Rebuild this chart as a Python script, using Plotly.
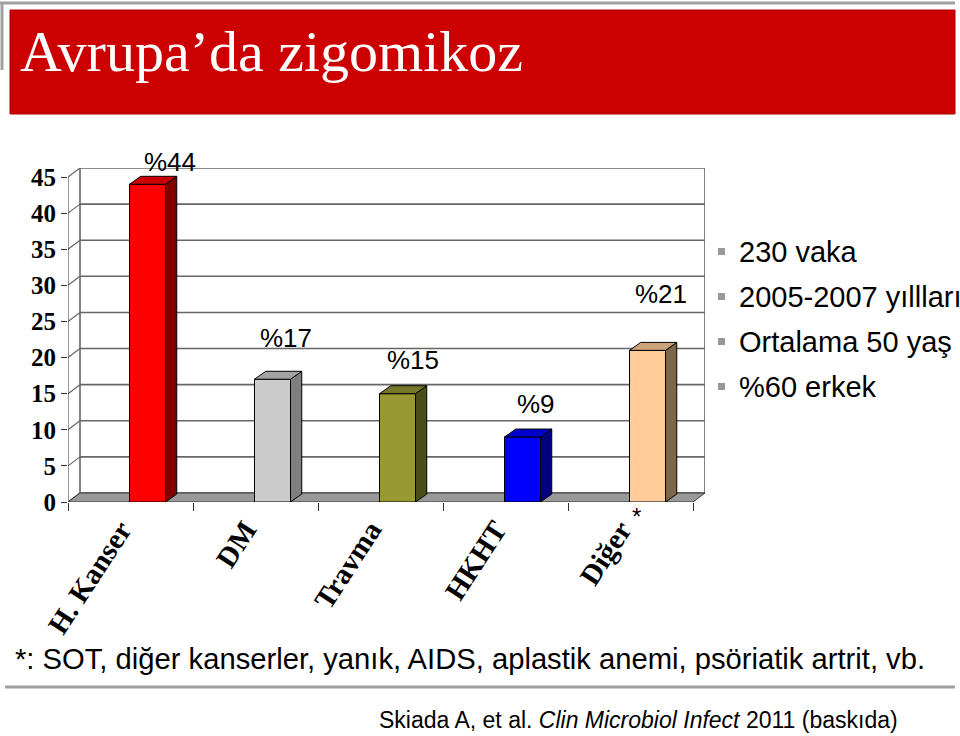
import plotly.graph_objects as go

# ---------------- data ----------------
categories = ["H. Kanser", "DM", "Travma", "HKHT", "Diğer"]
values = [44, 17, 15, 9, 21]
value_labels = ["%44", "%17", "%15", "%9", "%21"]
y_ticks = [0, 5, 10, 15, 20, 25, 30, 35, 40, 45]
front_colors = ["#FF0000", "#CCCCCC", "#999933", "#0000FF", "#FFCC99"]
top_colors = ["#CC0000", "#A3A3A3", "#77772A", "#0000CC", "#CCA37A"]
side_colors = ["#800000", "#7F7F7F", "#4D4D1A", "#000080", "#806648"]
notes = ["230 vaka", "2005-2007 yıllları", "Ortalama 50 yaş", "%60 erkek"]
title_text = "Avrupa’da zigomikoz"
footnote = "*: SOT, diğer kanserler, yanık, AIDS, aplastik anemi, psöriatik artrit, vb."
citation = "Skiada A, et al. <i>Clin Microbiol Infect</i> 2011 (baskıda)"

# ---------------- geometry / style ----------------
W, H = 960, 736
WALL_DX, WALL_DY = 0.096, 1.25      # depth of back wall (data units)
BAR_DX, BAR_DY = 0.09, 1.1          # depth of bars (data units)
BAR_OFF, BAR_W = 0.136, 0.288
label_xshift = [22, 13, 15, 13, 13]
label_yshift = [22, 41, 34, 33, 56]
GRID = "#666666"


def px(x):
    return x / W


def py(y):
    return 1 - y / H


n = len(categories)
x_min, x_max = -0.5, n - 0.5 + WALL_DX
y_max = max(y_ticks) + WALL_DY

fig = go.Figure()

# front faces
bar_x = [i + BAR_OFF for i in range(n)]
fig.add_trace(go.Bar(
    x=bar_x, y=values, width=BAR_W,
    marker=dict(color=front_colors, line=dict(color="#000000", width=1)),
    hoverinfo="skip", showlegend=False,
))

# side and top faces
for i, v in enumerate(values):
    x0 = bar_x[i] - BAR_W / 2
    x1 = bar_x[i] + BAR_W / 2
    fig.add_trace(go.Scatter(
        x=[x1, x1 + BAR_DX, x1 + BAR_DX, x1, x1],
        y=[0, BAR_DY, v + BAR_DY, v, 0],
        mode="lines", fill="toself", fillcolor=side_colors[i],
        line=dict(color="#000000", width=1), hoverinfo="skip", showlegend=False,
    ))
    fig.add_trace(go.Scatter(
        x=[x0, x1, x1 + BAR_DX, x0 + BAR_DX, x0],
        y=[v, v, v + BAR_DY, v + BAR_DY, v],
        mode="lines", fill="toself", fillcolor=top_colors[i],
        line=dict(color="#000000", width=1), hoverinfo="skip", showlegend=False,
    ))

shapes = []
# back wall gridlines + diagonals
for t in y_ticks:
    shapes.append(dict(type="line", xref="x", yref="y", layer="below",
                       x0=-0.5 + WALL_DX, x1=n - 0.5 + WALL_DX,
                       y0=t + WALL_DY, y1=t + WALL_DY,
                       line=dict(color=GRID, width=1.6)))
    shapes.append(dict(type="line", xref="x", yref="y", layer="below",
                       x0=-0.5, x1=-0.5 + WALL_DX, y0=t, y1=t + WALL_DY,
                       line=dict(color=GRID, width=1.2)))
# back wall edges
for xe in (-0.5 + WALL_DX, n - 0.5 + WALL_DX):
    shapes.append(dict(type="line", xref="x", yref="y", layer="below",
                       x0=xe, x1=xe, y0=WALL_DY, y1=max(y_ticks) + WALL_DY,
                       line=dict(color=GRID, width=1.6)))
# floor
shapes.append(dict(type="path", xref="x", yref="y", layer="below",
                   path=f"M {-0.5},0 L {n-0.5},0 L {n-0.5+WALL_DX},{WALL_DY} L {-0.5+WALL_DX},{WALL_DY} Z",
                   fillcolor="#999999", line=dict(color="#333333", width=1)))
# front vertical axis line
shapes.append(dict(type="line", xref="x", yref="y", layer="below",
                   x0=-0.5, x1=-0.5, y0=0, y1=max(y_ticks),
                   line=dict(color="#333333", width=1)))

# title band and frame
shapes.append(dict(type="line", xref="paper", yref="paper", x0=px(0), x1=px(955),
                   y0=py(3), y1=py(3), line=dict(color="#A0A0A0", width=3)))
shapes.append(dict(type="line", xref="paper", yref="paper", x0=px(2), x1=px(2),
                   y0=py(3), y1=py(70), line=dict(color="#A0A0A0", width=3)))
shapes.append(dict(type="rect", xref="paper", yref="paper", x0=px(10), x1=px(955),
                   y0=py(10), y1=py(114), fillcolor="#CC0000",
                   line=dict(color="#B00000", width=1)))
# separator line
shapes.append(dict(type="line", xref="paper", yref="paper", x0=px(5), x1=px(955),
                   y0=py(687), y1=py(687), line=dict(color="#A0A0A0", width=3)))
# bullets
for k in range(len(notes)):
    yc = 252 + 45 * k
    shapes.append(dict(type="rect", xref="paper", yref="paper",
                       x0=px(718), x1=px(725), y0=py(yc - 4), y1=py(yc + 3),
                       fillcolor="#999999", line=dict(width=0)))

annotations = []
# value labels
for i, lab in enumerate(value_labels):
    annotations.append(dict(x=bar_x[i], y=values[i], xref="x", yref="y",
                            text=lab, showarrow=False, xanchor="center", yanchor="middle",
                            xshift=label_xshift[i], yshift=label_yshift[i],
                            font=dict(family="Liberation Sans, Arial", size=26, color="#000000")))
# asterisk after last category
annotations.append(dict(x=n - 1, y=0, xref="x", yref="y", text="*", showarrow=False,
                        xanchor="center", yanchor="middle", xshift=6, yshift=-14,
                        font=dict(family="Liberation Sans, Arial", size=24, color="#000000")))
# notes
for k, t in enumerate(notes):
    annotations.append(dict(x=px(737), y=py(252 + 45 * k), xref="paper", yref="paper",
                            text=t, showarrow=False, xanchor="left", yanchor="middle",
                            font=dict(family="Liberation Sans, Arial", size=29, color="#000000")))
# title
annotations.append(dict(x=px(18), y=py(52), xref="paper", yref="paper", text=title_text,
                        showarrow=False, xanchor="left", yanchor="middle",
                        font=dict(family="Liberation Serif, Times New Roman", size=58, color="#FFFFFF")))
# footnote
annotations.append(dict(x=px(13), y=py(659), xref="paper", yref="paper", text=footnote,
                        showarrow=False, xanchor="left", yanchor="middle",
                        font=dict(family="Liberation Sans, Arial", size=29.2, color="#000000")))
# citation
annotations.append(dict(x=px(377), y=py(720), xref="paper", yref="paper", text=citation,
                        showarrow=False, xanchor="left", yanchor="middle",
                        font=dict(family="Liberation Sans, Arial", size=23, color="#000000")))

fig.update_layout(
    width=W, height=H, autosize=False,
    margin=dict(l=0, r=0, t=0, b=0, pad=0),
    paper_bgcolor="#FFFFFF", plot_bgcolor="#FFFFFF",
    showlegend=False,
    shapes=shapes, annotations=annotations,
    xaxis=dict(
        domain=[px(68), px(705)], range=[x_min, x_max], automargin=False,
        tickmode="array", tickvals=list(range(n)), ticktext=categories,
        tickangle=-57, ticks="", showgrid=False, zeroline=False, showline=False,
        ticklabelshift=-10, ticklabelstandoff=4,
        tickfont=dict(family="Liberation Serif, Times New Roman", size=29,
                      color="#000000", weight="bold"),
        minor=dict(tickmode="array", tickvals=[k - 0.5 for k in range(n + 1)],
                   ticks="outside", ticklen=8, tickcolor="#333333", tickwidth=1,
                   showgrid=False),
        fixedrange=True,
    ),
    yaxis=dict(
        domain=[py(502), py(168)], range=[0, y_max], automargin=False,
        tickmode="array", tickvals=y_ticks, ticktext=[str(t) for t in y_ticks],
        ticks="outside", ticklen=6, tickcolor="#333333", tickwidth=1,
        showgrid=False, zeroline=False, showline=False,
        tickfont=dict(family="Liberation Serif, Times New Roman", size=25,
                      color="#000000", weight="bold"),
        fixedrange=True,
    ),
)

fig.write_html("out.html")
